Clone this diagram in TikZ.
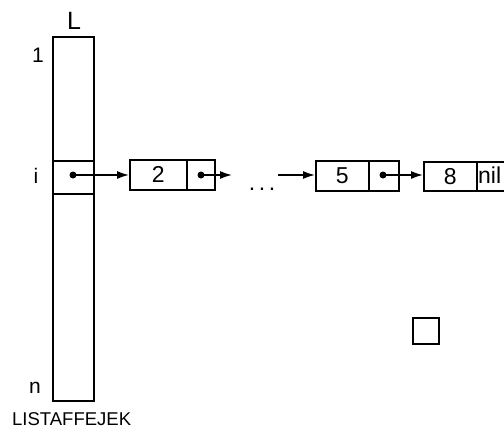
\documentclass[tikz,border=0pt]{standalone}
\usepackage{fontspec}
\setmainfont{Liberation Sans}
\usetikzlibrary{arrows.meta}
\begin{document}
\begin{tikzpicture}[x=1pt,y=-1pt,
 cell/.style={draw, line width=1.6pt, inner sep=0pt, anchor=north west, font=\fontsize{23}{27}\selectfont},
 lbl/.style={font=\fontsize{23}{27}\selectfont, inner sep=0pt, anchor=base},
 side/.style={font=\fontsize{21}{25}\selectfont, inner sep=0pt, anchor=base},
 ptr/.style={line width=1.6pt, -{Latex[length=12pt,width=8pt]}},
 dotn/.style={circle, fill, inner sep=0pt, minimum size=7pt}]
\useasboundingbox (0,0) rectangle (504,429);
\clip (0,0) rectangle (504,429);
% array column
\node[cell, minimum width=41pt, minimum height=364pt] (col) at (52,36) {};
\node[cell, minimum width=41pt, minimum height=33pt] (rowi) at (52,160) {};
\node[lbl, font=\fontsize{25}{29}\selectfont] (Lt) at (74,29) {L};
\node[side] (one) at (38,62) {1};
\node[side] (ilbl) at (36,183) {i};
\node[side] (nlbl) at (35,393) {n};
\node[lbl, anchor=base west, font=\fontsize{18.5}{22}\selectfont] (cap) at (12,425) {LISTAFFEJEK};
% list cells
\node[cell, minimum width=57pt, minimum height=30pt] (b2a) at (129,159) {2};
\node[cell, minimum width=28pt, minimum height=30pt] (b2b) at (186,159) {};
\node[cell, minimum width=53pt, minimum height=30pt] (b5a) at (315,160) {5};
\node[cell, minimum width=30pt, minimum height=30pt] (b5b) at (368,160) {};
\node[cell, minimum width=53pt, minimum height=29pt] (b8a) at (423,161) {8};
\node[cell, minimum width=60pt, minimum height=29pt] (b8b) at (476,161) {};
\node[lbl, anchor=base west] (nil) at (478,183) {nil};
% pointer dots
\node[dotn] (d0) at (73,175) {};
\node[dotn] (d2) at (201,175) {};
\node[dotn] (d5) at (383,175) {};
\coordinate (e2) at (232,175);
\coordinate (s5) at (278,175);
\node[lbl] (ell) at (262,190) {.\hspace{3.6pt}.\hspace{3.6pt}.};
% pointers
\draw[ptr] (d0.center) -- (b2a.west |- d0);
\draw[ptr] (d2.center) -- (e2);
\draw[ptr] (s5) -- (b5a.west |- s5);
\draw[ptr] (d5.center) -- (b8a.west |- d5);
% lone square
\node[draw, line width=2pt, minimum width=26pt, minimum height=26pt, inner sep=0pt, anchor=north west] (sq) at (412,317) {};
\end{tikzpicture}
\end{document}
